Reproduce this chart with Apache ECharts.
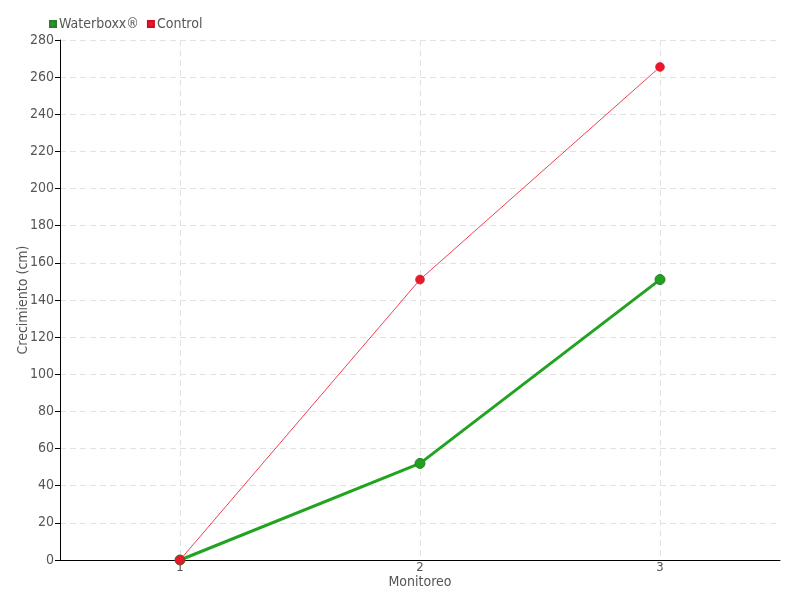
<!DOCTYPE html>
<html><head><meta charset="utf-8">
<script src="https://cdn.jsdelivr.net/npm/echarts@6/dist/echarts.min.js"></script>
<style>html,body{margin:0;padding:0;background:#fff}#c{width:800px;height:600px}</style>
</head><body><div id="c"></div>
<script>
const categories = ['1', '2', '3'];
const waterboxx = [0, 52, 151];
const control = [0, 151, 265.5];
const yTicks = [0, 20, 40, 60, 80, 100, 120, 140, 160, 180, 200, 220, 240, 260, 280];

const FONT = '"Liberation Sans Narrow", "DejaVu Sans Condensed", "Roboto", sans-serif';
const chart = echarts.init(document.getElementById('c'), null, {renderer: 'canvas'});
chart.setOption({
  animation: false,
  textStyle: {fontFamily: FONT},
  legend: {
    left: 44, top: 12, itemWidth: 6, itemHeight: 6, itemGap: 8,
    icon: 'rect',
    textStyle: {fontFamily: FONT, fontSize: 14, color: '#555', padding: [0, 0, 0, -2]},
    data: [{name: 'Waterboxx®'}, {name: 'Control'}]
  },
  grid: {left: 60, right: 20, top: 40, bottom: 40, containLabel: false, outerBoundsMode: 'none'},
  xAxis: {
    type: 'category', data: categories, boundaryGap: true,
    name: 'Monitoreo', nameLocation: 'middle', nameGap: 15, nameMoveOverlap: false,
    nameTextStyle: {fontFamily: FONT, fontSize: 14, color: '#555'},
    axisLine: {lineStyle: {color: '#000', width: 1}},
    axisTick: {alignWithLabel: true, length: 8, lineStyle: {color: '#555'}},
    axisLabel: {fontFamily: FONT, fontSize: 13, color: '#555', margin: 1},
    splitLine: {show: true, alignWithLabel: true, interval: 0, lineStyle: {color: '#e2e2e2', type: [6, 4]}}
  },
  yAxis: {
    type: 'value', min: 0, max: 280, interval: 20,
    name: 'Crecimiento (cm)', nameLocation: 'middle', nameGap: 30, nameMoveOverlap: false,
    nameTextStyle: {fontFamily: FONT, fontSize: 14, color: '#555'},
    axisLine: {show: true, lineStyle: {color: '#000', width: 1}},
    axisTick: {show: true, length: 5, lineStyle: {color: '#000'}},
    axisLabel: {fontFamily: FONT, fontSize: 14, color: '#555', margin: 6,
      formatter: v => yTicks.includes(v) ? String(v) : ''},
    splitLine: {show: true, lineStyle: {color: '#e2e2e2', type: [6, 4]}}
  },
  series: [
    {
      name: 'Waterboxx®', type: 'line', data: waterboxx,
      symbol: 'circle', symbolSize: 10, z: 2,
      itemStyle: {color: '#1fa01f', borderColor: '#2e7d2e', borderWidth: 1},
      lineStyle: {color: '#22a322', width: 3}
    },
    {
      name: 'Control', type: 'line', data: control,
      symbol: 'circle', symbolSize: 9, z: 3,
      itemStyle: {color: '#e8192c', borderColor: '#d01020', borderWidth: 0.5},
      lineStyle: {color: '#f04050', width: 1}
    }
  ]
});
</script></body></html>
